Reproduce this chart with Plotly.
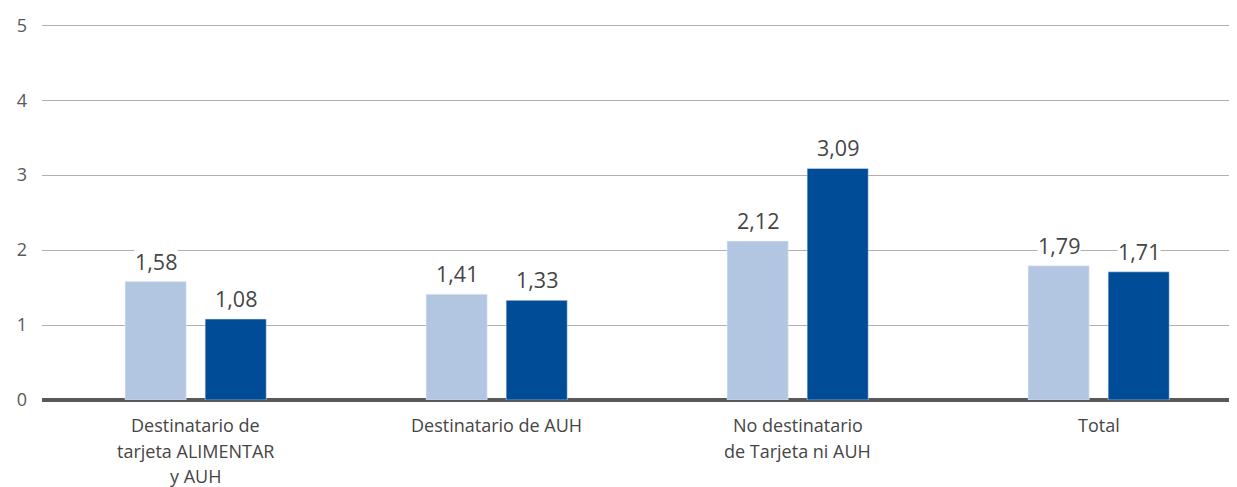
import plotly.graph_objects as go

categories = ["Destinatario de<br>tarjeta ALIMENTAR<br>y AUH", "Destinatario de AUH",
              "No destinatario<br>de Tarjeta ni AUH", "Total"]
serie_a = [1.58, 1.41, 2.12, 1.79]
serie_b = [1.08, 1.33, 3.09, 1.71]
labels_a = ["1,58", "1,41", "2,12", "1,79"]
labels_b = ["1,08", "1,33", "3,09", "1,71"]

light = "#b3c6e1"
dark = "#004c97"
font_family = "'Open Sans', Lato, sans-serif"

fig = go.Figure()
fig.add_trace(go.Bar(x=list(range(4)), y=serie_a, marker_color=light, name="A",
                     width=0.203, offset=-0.234, hoverinfo="skip"))
fig.add_trace(go.Bar(x=list(range(4)), y=serie_b, marker_color=dark, name="B",
                     width=0.203, offset=0.032, hoverinfo="skip"))

for i in range(4):
    fig.add_annotation(x=i - 0.234 + 0.1015, y=serie_a[i], text=labels_a[i], showarrow=False,
                       yanchor="bottom", yshift=5, bgcolor="white", borderpad=0,
                       font=dict(size=21.5, color="#454545", family=font_family))
    fig.add_annotation(x=i + 0.032 + 0.1015, y=serie_b[i], text=labels_b[i], showarrow=False,
                       yanchor="bottom", yshift=5, bgcolor="white", borderpad=0,
                       font=dict(size=21.5, color="#454545", family=font_family))
    for k, line in enumerate(categories[i].split("<br>")):
        fig.add_annotation(x=i, y=0, text=line, showarrow=False, yanchor="middle",
                           yshift=-(25 + 25.5 * k),
                           font=dict(size=18, color="#454545", family=font_family))

fig.update_layout(
    width=1237, height=487,
    margin=dict(l=34, r=8, t=14.75, b=95),
    plot_bgcolor="white", paper_bgcolor="white",
    showlegend=False,
    font=dict(family=font_family, color="#595959"),
    xaxis=dict(range=[-0.51, -0.51 + 1195 / 301], tickvals=list(range(4)), showticklabels=False,
               showgrid=False, zeroline=False, showline=False, ticks="", automargin=False),
    yaxis=dict(range=[0, 5.03], tickvals=[0, 1, 2, 3, 4, 5], showgrid=True, gridcolor="#b0b0b0",
               gridwidth=1, zeroline=True, zerolinecolor="#595959", zerolinewidth=4,
               tickfont=dict(size=18, color="#595959"), ticklabelstandoff=14, automargin=False),
)

fig.write_html("out.html")
